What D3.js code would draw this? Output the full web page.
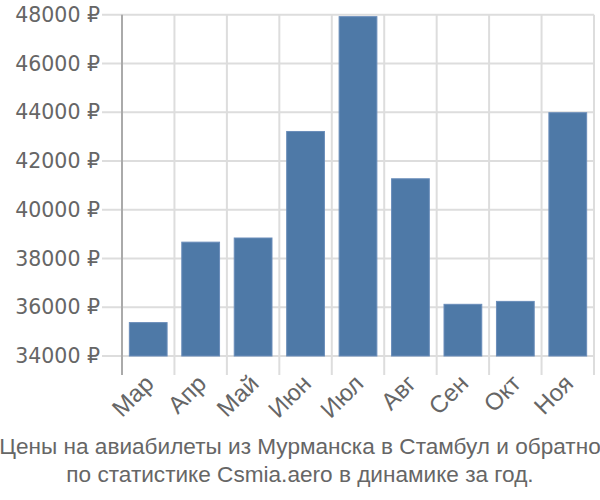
<!DOCTYPE html>
<html><head><meta charset="utf-8">
<script src="https://cdn.jsdelivr.net/npm/d3@7"></script>
<style>body{margin:0;background:#fff}svg{display:block}</style>
</head><body>
<svg id="chart" width="600" height="500"></svg>
<script>
const months = ["Мар","Апр","Май","Июн","Июл","Авг","Сен","Окт","Ноя"];
const prices = [35370, 38670, 38840, 43210, 47920, 41270, 36120, 36240, 43980];
const yTicks = [34000, 36000, 38000, 40000, 42000, 44000, 46000, 48000];
const titleLines = ["Цены на авиабилеты из Мурманска в Стамбул и обратно", "по статистике Csmia.aero в динамике за год."];

const svg = d3.select("#chart");
const pLeft = 122, pRight = 594, pTop = 14.7, pBottom = 356;
const x = d3.scaleBand().domain(months).range([pLeft, pRight]).paddingInner(0.28).paddingOuter(0.14);
const y = d3.scaleLinear().domain([34000, 48000]).range([pBottom, pTop]);
const grid = "#dddddd", textCol = "#666666";

svg.append("g").selectAll("line").data(yTicks).join("line")
  .attr("x1", pLeft - 20).attr("x2", pRight)
  .attr("y1", d => y(d)).attr("y2", d => y(d))
  .attr("stroke", grid).attr("stroke-width", 2);
const bounds = d3.range(months.length + 1).map(i => pLeft + i * (pRight - pLeft) / months.length);
svg.append("g").selectAll("line").data(bounds.slice(1)).join("line")
  .attr("x1", d => d).attr("x2", d => d)
  .attr("y1", pTop).attr("y2", pBottom + 19)
  .attr("stroke", grid).attr("stroke-width", 2);
svg.append("line").attr("x1", pLeft).attr("x2", pLeft).attr("y1", pTop).attr("y2", pBottom + 19)
  .attr("stroke", "#aaaaaa").attr("stroke-width", 2);

svg.append("g").selectAll("rect").data(months).join("rect")
  .attr("x", d => x(d)).attr("width", x.bandwidth())
  .attr("y", (d, i) => y(prices[i])).attr("height", (d, i) => pBottom - y(prices[i]))
  .attr("fill", "#4e79a7").attr("stroke", "#6a8dba").attr("stroke-width", 1);

svg.append("g").selectAll("text").data(yTicks).join("text")
  .attr("x", 100).attr("y", d => y(d)).attr("dy", "0.35em")
  .attr("text-anchor", "end").attr("fill", textCol)
  .style("font-family", "'DejaVu Sans', sans-serif").style("font-size", "20.5px")
  .text(d => d + " ₽");

svg.append("g").selectAll("text").data(months).join("text")
  .attr("text-anchor", "end").attr("fill", textCol)
  .style("font-family", "'Liberation Sans', sans-serif").style("font-size", "24px")
  .attr("transform", d => `translate(${x(d) + x.bandwidth() / 2 + 7},${pBottom + 29}) rotate(-45)`)
  .text(d => d);

svg.append("g").selectAll("text").data(titleLines).join("text")
  .attr("x", 300).attr("y", (d, i) => 454 + i * 27.5)
  .attr("text-anchor", "middle").attr("fill", textCol)
  .style("font-family", "'Liberation Sans', sans-serif").style("font-size", "22.6px")
  .text(d => d);
</script>
</body></html>
